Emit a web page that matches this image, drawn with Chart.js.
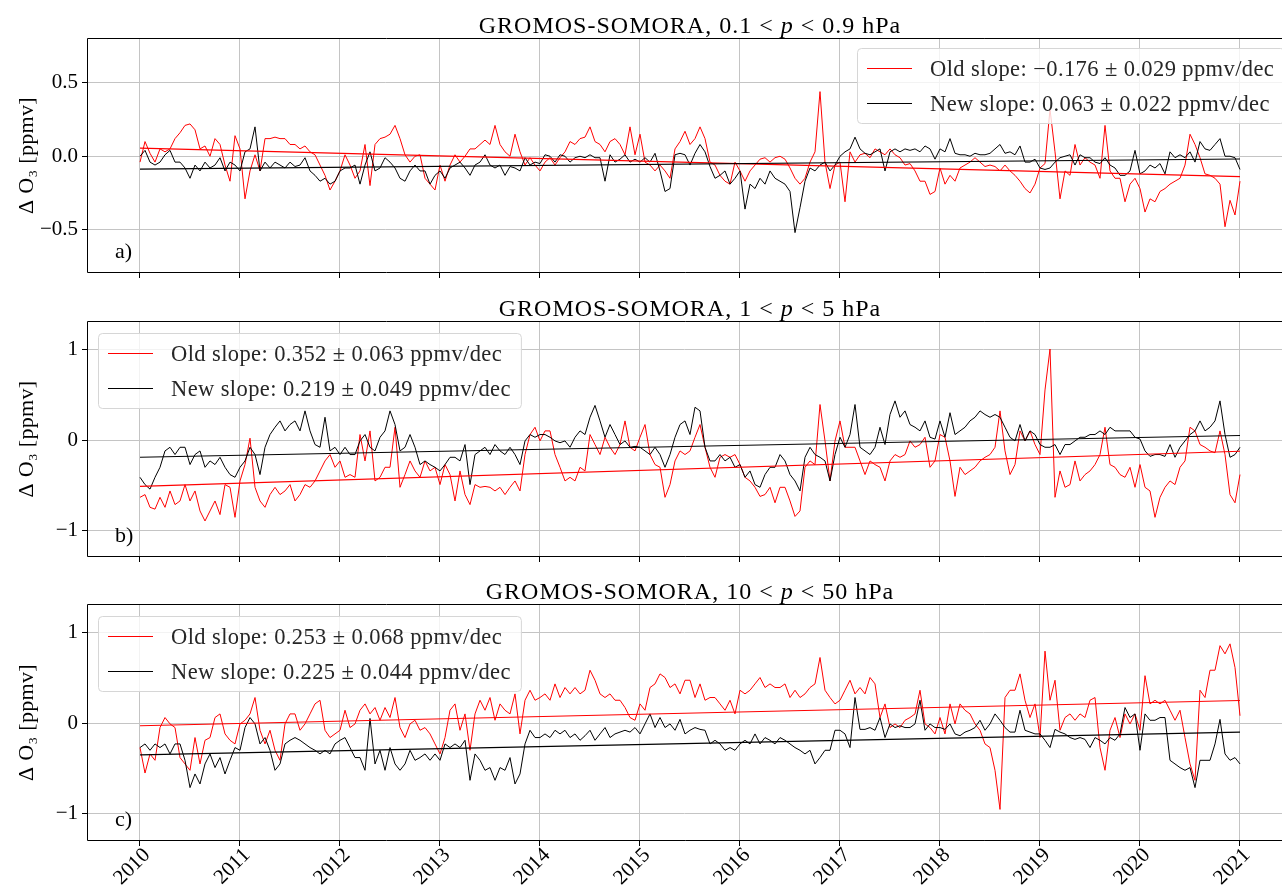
<!DOCTYPE html>
<html>
<head>
<meta charset="utf-8">
<script src="https://cdn.jsdelivr.net/npm/chart.js@4.4.1/dist/chart.umd.min.js"></script>
<style>
  body { margin: 0; background: #fff; }
  #wrap { position: relative; width: 1282px; height: 886px; overflow: hidden; background: #fff; }
  canvas { position: absolute; left: 0; }
</style>
</head>
<body>
<div id="wrap">
  <canvas id="panelA" width="1282" height="290" style="top:0px"></canvas>
  <canvas id="panelB" width="1282" height="285" style="top:290px"></canvas>
  <canvas id="panelC" width="1282" height="311" style="top:575px"></canvas>
</div>
<script>
// sampling of the difference series (decimal years)
const startYear = 2010;
const stepYear = 0.05;
const yearTicks = [2010, 2011, 2012, 2013, 2014, 2015, 2016, 2017, 2018, 2019, 2020, 2021];
const trendYears = [2010, 2021];

// panel a) 0.1 < p < 0.9 hPa
const oldA = [
  -0.04, 0.10, 0.02, -0.04, 0.05, 0.03, 0.05, 0.12, 0.16, 0.21, 0.22, 0.18, 0.05, 0.07, 0.00, 0.12, 0.08, -0.06, -0.17, 0.14,
  0.05, -0.29, -0.10, 0.01, -0.10, 0.12, 0.12, 0.13, 0.12, 0.12, 0.08, 0.08, 0.05, 0.07, 0.03, 0.01, -0.06, -0.13, -0.23, -0.17,
  -0.10, 0.01, -0.06, -0.15, -0.10, 0.08, -0.20, 0.08, 0.12, 0.13, 0.15, 0.21, 0.12, 0.01, -0.04, 0.00, 0.01, -0.15, -0.19, -0.23,
  -0.06, -0.17, -0.06, 0.01, -0.04, 0.00, 0.05, 0.05, 0.08, 0.11, 0.08, 0.21, 0.08, 0.03, 0.00, 0.15, 0.03, -0.06, -0.01, -0.06,
  -0.10, -0.04, -0.01, -0.06, -0.01, 0.03, 0.10, 0.08, 0.12, 0.13, 0.20, 0.10, 0.08, 0.03, 0.10, 0.12, 0.08, 0.01, 0.20, 0.01,
  0.15, -0.04, -0.06, -0.10, -0.06, -0.10, -0.15, 0.05, 0.10, 0.17, 0.08, 0.12, 0.20, 0.12, -0.04, -0.06, -0.13, -0.17, -0.19, -0.04,
  -0.10, -0.17, -0.10, -0.06, -0.02, -0.01, -0.04, -0.01, 0.00, -0.02, -0.08, -0.15, -0.19, -0.15, -0.04, 0.03, 0.44, -0.04, -0.22, -0.06,
  -0.04, -0.31, 0.03, -0.04, 0.01, 0.02, -0.01, 0.05, 0.03, 0.01, 0.05, 0.01, -0.01, -0.06, -0.05, -0.10, -0.17, -0.17, -0.26, -0.24,
  -0.08, -0.19, -0.13, -0.17, -0.08, -0.06, -0.04, -0.01, -0.04, -0.07, -0.06, -0.07, -0.10, -0.06, -0.10, -0.13, -0.17, -0.22, -0.25, -0.19,
  -0.08, -0.05, 0.32, 0.03, -0.29, -0.10, -0.13, 0.08, -0.06, -0.01, -0.04, -0.06, -0.15, 0.21, -0.10, -0.15, -0.15, -0.31, -0.19, -0.15,
  -0.22, -0.38, -0.29, -0.31, -0.24, -0.22, -0.19, -0.17, -0.15, -0.06, 0.15, 0.08, -0.01, -0.12, -0.13, -0.15, -0.19, -0.48, -0.30, -0.40,
  -0.17
];
const newA = [
  0.00, 0.04, -0.04, -0.06, -0.04, 0.01, 0.04, -0.04, -0.04, -0.08, -0.15, -0.06, -0.10, -0.04, -0.08, -0.06, -0.01, -0.10, -0.04, -0.06,
  -0.10, 0.03, 0.05, 0.20, -0.10, -0.04, -0.08, -0.04, -0.06, -0.08, -0.04, -0.07, -0.06, -0.01, -0.10, -0.13, -0.17, -0.15, -0.19, -0.17,
  -0.10, -0.08, -0.08, -0.06, -0.19, -0.06, 0.03, -0.10, -0.08, -0.01, -0.04, -0.08, -0.15, -0.17, -0.10, -0.06, -0.10, -0.10, -0.19, -0.13,
  -0.10, -0.15, -0.08, -0.06, -0.04, -0.08, -0.13, -0.06, -0.04, 0.01, -0.06, -0.08, -0.06, -0.13, -0.07, -0.08, -0.10, -0.01, -0.06, -0.04,
  -0.05, 0.01, 0.00, -0.04, 0.01, 0.00, -0.04, -0.01, 0.00, -0.01, 0.01, -0.01, -0.01, -0.17, 0.01, -0.04, -0.02, 0.01, -0.04, -0.02,
  -0.04, -0.01, -0.04, 0.02, -0.10, -0.24, -0.22, 0.01, 0.02, 0.01, -0.06, 0.02, 0.08, 0.03, -0.07, -0.15, -0.13, -0.10, -0.19, -0.15,
  -0.10, -0.36, -0.19, -0.22, -0.15, -0.19, -0.10, -0.15, -0.17, -0.19, -0.24, -0.52, -0.35, -0.17, -0.08, -0.10, -0.06, -0.04, -0.10, -0.06,
  0.00, 0.03, 0.05, 0.13, 0.05, 0.02, 0.01, 0.03, 0.05, -0.10, 0.03, 0.05, 0.03, 0.05, 0.04, 0.05, 0.03, 0.07, 0.05, -0.02,
  0.05, 0.03, 0.12, 0.02, 0.01, 0.01, 0.00, 0.02, 0.01, 0.01, 0.02, 0.05, 0.08, 0.02, 0.03, 0.01, 0.07, -0.04, -0.04, -0.02,
  -0.08, -0.09, -0.08, -0.04, -0.01, 0.00, 0.01, -0.06, 0.01, -0.01, -0.01, -0.04, -0.05, -0.01, -0.06, -0.08, -0.13, -0.13, -0.10, 0.04,
  -0.12, -0.10, -0.06, -0.08, -0.05, -0.12, 0.03, -0.01, 0.01, -0.01, 0.03, -0.04, 0.10, 0.05, 0.04, 0.08, 0.12, 0.00, 0.00, -0.01,
  -0.09
];
const trendOldA = [0.055, -0.139];
const trendNewA = [-0.088, -0.019];

// panel b) 1 < p < 5 hPa
const oldB = [
  -0.63, -0.60, -0.74, -0.76, -0.63, -0.74, -0.56, -0.71, -0.67, -0.49, -0.67, -0.56, -0.78, -0.89, -0.78, -0.67, -0.82, -0.49, -0.52, -0.85,
  -0.45, -0.27, 0.02, -0.52, -0.67, -0.74, -0.60, -0.52, -0.60, -0.56, -0.49, -0.67, -0.60, -0.49, -0.52, -0.45, -0.34, -0.23, -0.16, -0.30,
  -0.23, -0.41, -0.38, -0.41, 0.06, -0.23, 0.10, -0.45, -0.41, -0.30, -0.30, 0.14, -0.52, -0.38, -0.23, -0.34, -0.41, -0.23, -0.34, -0.30,
  -0.49, -0.27, -0.38, -0.67, -0.34, -0.60, -0.71, -0.49, -0.52, -0.51, -0.52, -0.56, -0.52, -0.60, -0.52, -0.45, -0.56, -0.16, 0.06, 0.14,
  -0.01, 0.10, 0.10, -0.16, -0.30, -0.45, -0.41, -0.45, -0.30, -0.34, 0.06, -0.05, -0.16, 0.03, -0.08, -0.16, -0.05, 0.21, -0.08, -0.12,
  0.03, 0.17, -0.16, -0.27, -0.30, -0.63, -0.49, -0.23, -0.12, -0.16, -0.12, 0.03, 0.17, -0.08, -0.30, -0.41, -0.19, -0.16, -0.19, -0.16,
  -0.27, -0.41, -0.45, -0.52, -0.62, -0.60, -0.52, -0.69, -0.52, -0.52, -0.67, -0.84, -0.78, -0.30, -0.23, -0.27, 0.39, -0.01, -0.45, -0.01,
  0.21, -0.08, -0.08, -0.08, -0.23, -0.38, -0.23, -0.27, -0.30, -0.45, -0.23, -0.16, -0.19, -0.16, -0.01, -0.08, -0.05, 0.03, -0.30, -0.23,
  0.06, 0.03, -0.23, -0.62, -0.30, -0.38, -0.34, -0.30, -0.23, -0.19, -0.16, -0.08, 0.32, -0.12, -0.38, -0.27, 0.10, -0.01, 0.10, -0.05,
  -0.16, 0.55, 1.00, -0.63, -0.34, -0.52, -0.49, -0.23, -0.45, -0.38, -0.34, -0.27, -0.16, 0.14, -0.27, -0.30, -0.38, -0.41, -0.30, -0.52,
  -0.27, -0.52, -0.56, -0.85, -0.63, -0.52, -0.45, -0.49, -0.30, -0.23, 0.14, 0.10, -0.05, -0.08, -0.12, -0.14, 0.10, -0.16, -0.60, -0.69,
  -0.38
];
const newB = [
  -0.41, -0.49, -0.54, -0.41, -0.30, -0.12, -0.08, -0.16, -0.08, -0.08, -0.27, -0.16, -0.12, -0.30, -0.23, -0.27, -0.19, -0.30, -0.38, -0.41,
  -0.30, -0.23, -0.08, -0.16, -0.38, -0.08, 0.06, 0.14, 0.21, 0.10, 0.17, 0.21, 0.10, 0.32, 0.10, -0.05, -0.08, 0.25, -0.12, -0.08,
  -0.16, -0.08, -0.16, -0.16, -0.01, 0.06, -0.08, -0.12, 0.03, 0.10, 0.32, 0.17, -0.12, -0.08, 0.06, -0.08, -0.27, -0.23, -0.27, -0.30,
  -0.34, -0.27, -0.19, -0.19, -0.23, -0.05, -0.49, -0.16, -0.12, -0.08, -0.16, -0.05, -0.12, -0.16, -0.08, -0.16, -0.27, -0.01, 0.06, 0.03,
  0.06, 0.06, 0.03, -0.01, -0.03, -0.01, -0.08, 0.03, 0.10, 0.06, 0.25, 0.38, 0.21, 0.03, 0.17, 0.06, -0.05, -0.01, -0.08, -0.07,
  -0.08, -0.12, -0.16, -0.08, -0.16, -0.30, -0.16, 0.03, 0.17, 0.21, 0.06, 0.36, 0.32, -0.08, -0.23, -0.23, -0.16, -0.23, -0.19, -0.30,
  -0.27, -0.41, -0.34, -0.49, -0.52, -0.38, -0.30, -0.30, -0.16, -0.23, -0.38, -0.45, -0.56, -0.19, -0.08, -0.16, -0.19, -0.23, -0.45, -0.16,
  0.03, -0.08, 0.06, 0.39, -0.08, -0.12, -0.16, -0.08, 0.14, -0.05, 0.28, 0.43, 0.25, 0.32, 0.17, 0.14, 0.10, 0.21, 0.03, 0.01,
  0.21, 0.03, 0.30, 0.06, 0.10, 0.14, 0.21, 0.25, 0.32, 0.28, 0.25, 0.28, 0.25, 0.14, 0.03, -0.01, 0.17, -0.01, 0.10, 0.06,
  -0.05, -0.08, -0.08, -0.05, -0.16, -0.05, -0.05, -0.01, 0.03, 0.03, 0.06, 0.06, 0.10, 0.06, 0.14, 0.10, 0.10, 0.10, 0.10, 0.03,
  0.01, -0.12, -0.18, -0.16, -0.16, -0.18, -0.05, -0.19, -0.08, -0.01, 0.06, 0.10, 0.21, 0.10, 0.14, 0.21, 0.43, 0.06, -0.19, -0.16,
  -0.08
];
const trendOldB = [-0.51, -0.123];
const trendNewB = [-0.19, 0.05];

// panel c) 10 < p < 50 hPa
const oldC = [
  -0.27, -0.55, -0.34, -0.41, -0.05, 0.06, -0.01, -0.05, -0.38, -0.45, -0.52, -0.16, -0.45, -0.19, -0.16, 0.06, 0.10, -0.12, -0.19, -0.23,
  -0.01, 0.03, 0.10, 0.28, -0.08, -0.23, -0.08, -0.30, -0.41, -0.01, 0.10, 0.10, -0.08, -0.01, 0.10, 0.21, 0.25, -0.08, -0.16, -0.12,
  -0.08, 0.14, -0.05, -0.01, 0.14, 0.21, 0.10, 0.17, 0.03, 0.17, 0.06, 0.28, -0.05, -0.16, -0.01, 0.03, -0.08, -0.05, -0.12, -0.23,
  -0.34, -0.16, 0.14, 0.21, -0.08, 0.10, -0.30, 0.10, 0.25, 0.14, 0.28, 0.03, 0.21, 0.14, 0.10, 0.32, -0.12, 0.25, 0.36, 0.25,
  0.28, 0.32, 0.25, 0.43, 0.28, 0.39, 0.32, 0.39, 0.32, 0.36, 0.58, 0.47, 0.32, 0.28, 0.32, 0.25, 0.25, 0.17, 0.06, 0.03,
  0.21, 0.14, 0.39, 0.43, 0.54, 0.50, 0.39, 0.43, 0.32, 0.47, 0.47, 0.28, 0.43, 0.25, 0.28, 0.28, 0.21, 0.14, 0.25, 0.10,
  0.36, 0.32, 0.36, 0.43, 0.50, 0.39, 0.43, 0.39, 0.39, 0.43, 0.28, 0.36, 0.28, 0.32, 0.39, 0.43, 0.72, 0.36, 0.28, 0.21,
  0.25, 0.36, 0.47, 0.32, 0.39, 0.32, 0.50, 0.43, 0.06, 0.21, -0.05, -0.01, -0.05, 0.03, 0.06, 0.10, 0.36, -0.01, -0.05, -0.12,
  0.06, -0.12, 0.21, -0.01, 0.21, 0.14, 0.10, -0.01, -0.08, -0.23, -0.27, -0.52, -0.95, 0.28, 0.36, 0.36, 0.54, 0.25, 0.06, 0.21,
  -0.16, 0.79, 0.25, 0.47, -0.08, 0.06, 0.10, 0.03, 0.10, 0.06, 0.25, 0.28, -0.27, -0.52, -0.08, 0.06, -0.16, 0.10, -0.01, 0.10,
  -0.08, 0.52, 0.21, 0.25, 0.21, 0.25, 0.14, 0.03, 0.14, -0.16, -0.45, -0.63, 0.36, 0.28, 0.58, 0.58, 0.85, 0.76, 0.87, 0.61,
  0.08
];
const newC = [
  -0.27, -0.23, -0.30, -0.23, -0.27, -0.23, -0.34, -0.23, -0.23, -0.41, -0.71, -0.56, -0.67, -0.45, -0.34, -0.49, -0.38, -0.56, -0.41, -0.27,
  -0.30, -0.05, 0.06, -0.01, -0.23, -0.16, -0.30, -0.52, -0.45, -0.23, -0.19, -0.16, -0.19, -0.23, -0.27, -0.30, -0.34, -0.30, -0.34, -0.23,
  -0.19, -0.16, -0.27, -0.38, -0.38, -0.52, 0.05, -0.45, -0.30, -0.52, -0.27, -0.45, -0.52, -0.45, -0.30, -0.41, -0.38, -0.34, -0.41, -0.34,
  -0.41, -0.23, -0.27, -0.23, -0.27, -0.19, -0.63, -0.34, -0.41, -0.52, -0.49, -0.63, -0.49, -0.52, -0.38, -0.67, -0.56, -0.23, -0.08, -0.16,
  -0.16, -0.12, -0.16, -0.08, -0.12, -0.08, -0.16, -0.12, -0.19, -0.14, -0.08, -0.19, -0.12, -0.05, -0.16, -0.12, -0.10, -0.08, -0.10, -0.05,
  -0.12, -0.01, 0.10, -0.05, 0.06, -0.05, -0.01, -0.08, 0.04, -0.12, -0.08, -0.05, -0.07, -0.08, -0.23, -0.19, -0.23, -0.30, -0.27, -0.30,
  -0.23, -0.19, -0.23, -0.12, -0.23, -0.16, -0.19, -0.23, -0.16, -0.19, -0.23, -0.27, -0.30, -0.34, -0.30, -0.45, -0.38, -0.30, -0.30, -0.08,
  -0.08, -0.12, -0.27, 0.28, -0.07, -0.07, -0.05, -0.08, 0.06, -0.16, -0.01, -0.05, -0.03, -0.05, -0.05, -0.01, 0.25, -0.08, -0.01, -0.05,
  -0.05, -0.07, -0.01, -0.12, -0.14, -0.10, -0.08, -0.05, 0.03, -0.08, -0.01, 0.10, 0.03, -0.05, -0.10, -0.10, 0.14, -0.08, -0.10, -0.12,
  -0.12, -0.19, -0.27, -0.07, -0.10, -0.12, -0.16, -0.18, -0.16, -0.18, -0.27, -0.16, -0.19, -0.23, -0.16, -0.19, -0.12, 0.17, 0.06, 0.10,
  -0.30, 0.10, 0.03, 0.03, 0.06, 0.06, -0.41, -0.45, -0.49, -0.52, -0.49, -0.71, -0.41, -0.41, -0.41, -0.23, 0.04, -0.34, -0.41, -0.38,
  -0.45
];
const trendOldC = [-0.03, 0.248];
const trendNewC = [-0.35, -0.10];

const legendA = ["Old slope: \u22120.176 \u00b1 0.029 ppmv/dec", "New slope: 0.063 \u00b1 0.022 ppmv/dec"];
const legendB = ["Old slope: 0.352 \u00b1 0.063 ppmv/dec", "New slope: 0.219 \u00b1 0.049 ppmv/dec"];
const legendC = ["Old slope: 0.253 \u00b1 0.068 ppmv/dec", "New slope: 0.225 \u00b1 0.044 ppmv/dec"];

const FONT = '"Liberation Serif", "DejaVu Serif", serif';
const GRID = '#c4c4c4';

function toPoints(vals) {
  return vals.map((v, i) => ({ x: startYear + i * stepYear, y: v }));
}
function toTrend(vals) {
  return vals.map((v, i) => ({ x: trendYears[i], y: v }));
}

function drawParts(ctx, parts, cx, y, size, spacing) {
  ctx.letterSpacing = (spacing || 0) + 'px';
  let w = 0;
  parts.forEach(p => {
    ctx.font = (p[1] ? 'italic ' : '') + size + 'px ' + FONT;
    w += ctx.measureText(p[0]).width;
  });
  let x = cx - w / 2;
  ctx.textAlign = 'left';
  parts.forEach(p => {
    ctx.font = (p[1] ? 'italic ' : '') + size + 'px ' + FONT;
    ctx.fillText(p[0], x, y);
    x += ctx.measureText(p[0]).width;
  });
  ctx.letterSpacing = '0px';
}

function roundRect(ctx, x, y, w, h, r) {
  ctx.beginPath();
  ctx.moveTo(x + r, y);
  ctx.arcTo(x + w, y, x + w, y + h, r);
  ctx.arcTo(x + w, y + h, x, y + h, r);
  ctx.arcTo(x, y + h, x, y, r);
  ctx.arcTo(x, y, x + w, y, r);
  ctx.closePath();
}

// frame, title, y label, panel letter and the legend box
const panelDeco = {
  id: 'panelDeco',
  afterDraw(chart, args, o) {
    const { ctx, chartArea: a } = chart;
    ctx.save();
    ctx.strokeStyle = '#000';
    ctx.lineWidth = 1;
    ctx.beginPath();
    ctx.moveTo(1290, a.top + 0.5);
    ctx.lineTo(a.left + 0.5, a.top + 0.5);
    ctx.lineTo(a.left + 0.5, a.bottom - 0.5);
    ctx.lineTo(1290, a.bottom - 0.5);
    ctx.stroke();

    ctx.fillStyle = '#000';
    ctx.textBaseline = 'alphabetic';
    drawParts(ctx, o.title, 690, a.top - 5, 24, 1);

    ctx.save();
    ctx.translate(26, (a.top + a.bottom) / 2);
    ctx.rotate(-Math.PI / 2);
    drawParts(ctx, [['\u0394 O\u2083 [ppmv]', false]], 0, 7, 22, 0.3);
    ctx.restore();

    ctx.font = '22px ' + FONT;
    ctx.textAlign = 'left';
    ctx.fillText(o.letter, a.left + 28, a.bottom - 15);

    // legend
    const lg = o.legend;
    ctx.font = '22.5px ' + FONT;
    ctx.letterSpacing = '0.4px';
    const tw = Math.max(...lg.labels.map(t => ctx.measureText(t).width));
    const w = 10 + 45 + 18 + tw + 10;
    const h = 75;
    roundRect(ctx, lg.x + 0.5, lg.y + 0.5, w, h, 4);
    ctx.fillStyle = 'rgba(255,255,255,0.8)';
    ctx.fill();
    ctx.strokeStyle = '#d6d6d6';
    ctx.stroke();
    lg.labels.forEach((t, i) => {
      const yy = lg.y + 20 + i * 35;
      ctx.strokeStyle = lg.colors[i];
      ctx.lineWidth = 1;
      ctx.beginPath();
      ctx.moveTo(lg.x + 10, yy + 0.5);
      ctx.lineTo(lg.x + 55, yy + 0.5);
      ctx.stroke();
      ctx.fillStyle = '#262626';
      ctx.fillText(t, lg.x + 73, yy + 8);
    });
    ctx.letterSpacing = '0px';
    ctx.restore();
  }
};

function makePanel(id, p) {
  const tickFont = { family: FONT, size: 21 };
  return new Chart(document.getElementById(id), {
    type: 'line',
    data: {
      datasets: [
        { label: p.legend.labels[1], data: toTrend(p.trendNew), borderColor: '#000', borderWidth: 1.1 },
        { label: p.legend.labels[0], data: toTrend(p.trendOld), borderColor: '#ff0000', borderWidth: 1.1 },
        { label: 'new', data: toPoints(p.newVals), borderColor: '#000', borderWidth: 1 },
        { label: 'old', data: toPoints(p.oldVals), borderColor: '#ff0000', borderWidth: 1 }
      ]
    },
    options: {
      responsive: false,
      animation: false,
      devicePixelRatio: 1,
      layout: { padding: { top: p.top, left: 0, right: 0, bottom: 0 } },
      elements: { point: { radius: 0 }, line: { tension: 0, fill: false } },
      plugins: {
        legend: { display: false },
        tooltip: { enabled: false },
        panelDeco: { title: p.title, letter: p.letter, legend: p.legend }
      },
      scales: {
        x: {
          type: 'linear',
          min: 2009.47,
          max: 2021.42,
          afterBuildTicks: s => { s.ticks = yearTicks.map(v => ({ value: v })); },
          afterFit: s => { s.height = p.xAxisH; },
          grid: { color: GRID, lineWidth: 1, drawTicks: true, tickLength: 5, tickColor: '#000' },
          border: { display: false },
          ticks: {
            display: p.showYears, autoSkip: false, minRotation: 45, maxRotation: 45,
            color: '#000', font: tickFont, padding: -3, labelOffset: 7,
            callback: v => String(v)
          }
        },
        y: {
          type: 'linear',
          min: p.yMin,
          max: p.yMax,
          afterBuildTicks: s => { s.ticks = p.yTicks.map(v => ({ value: v })); },
          afterFit: s => { s.width = 87; },
          grid: { color: GRID, lineWidth: 1, drawTicks: true, tickLength: 5, tickColor: '#000' },
          border: { display: false },
          ticks: {
            color: '#000', font: tickFont, padding: 4,
            callback: v => p.yLabels[p.yTicks.indexOf(v)]
          }
        }
      }
    },
    plugins: [panelDeco]
  });
}

makePanel('panelA', {
  oldVals: oldA, newVals: newA, trendOld: trendOldA, trendNew: trendNewA,
  yMin: -0.795, yMax: 0.805, yTicks: [-0.5, 0, 0.5], yLabels: ['\u22120.5', '0.0', '0.5'],
  top: 38, xAxisH: 17, showYears: false, letter: 'a)',
  title: [['GROMOS-SOMORA, 0.1 < ', false], ['p', true], [' < 0.9 hPa', false]],
  legend: { x: 857, y: 48, labels: legendA, colors: ['#ff0000', '#000'] }
});
makePanel('panelB', {
  oldVals: oldB, newVals: newB, trendOld: trendOldB, trendNew: trendNewB,
  yMin: -1.286, yMax: 1.308, yTicks: [-1, 0, 1], yLabels: ['\u22121', '0', '1'],
  top: 31, xAxisH: 18, showYears: false, letter: 'b)',
  title: [['GROMOS-SOMORA, 1 < ', false], ['p', true], [' < 5 hPa', false]],
  legend: { x: 98, y: 43, labels: legendB, colors: ['#ff0000', '#000'] }
});
makePanel('panelC', {
  oldVals: oldC, newVals: newC, trendOld: trendOldC, trendNew: trendNewC,
  yMin: -1.297, yMax: 1.308, yTicks: [-1, 0, 1], yLabels: ['\u22121', '0', '1'],
  top: 29, xAxisH: 45, showYears: true, letter: 'c)',
  title: [['GROMOS-SOMORA, 10 < ', false], ['p', true], [' < 50 hPa', false]],
  legend: { x: 98, y: 41, labels: legendC, colors: ['#ff0000', '#000'] }
});
</script>
</body>
</html>
